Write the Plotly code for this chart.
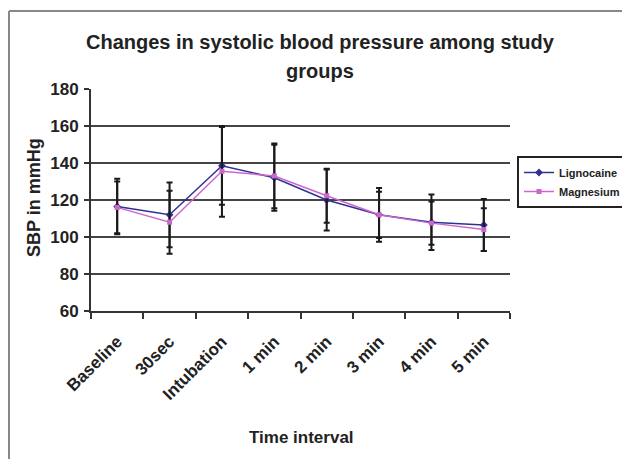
import plotly.graph_objects as go

categories = ["Baseline", "30sec", "Intubation", "1 min", "2 min", "3 min", "4 min", "5 min"]
lignocaine = [116.5, 112, 138.5, 132, 120, 112, 108, 106.5]
lignocaine_sd = [15, 17.5, 21, 17.8, 16.5, 14.5, 15, 14]
magnesium = [116, 108, 135.5, 133, 122.3, 112, 107.5, 104]
magnesium_sd = [14, 17, 24.5, 17.5, 14.6, 12.5, 11.7, 11.5]

FONT = "Liberation Sans, Arial, sans-serif"
L, R, T, B = 91, 112, 89, 148
W, H = 622, 459
pw, ph = W - L - R, H - T - B

def px2x(px):
    return (px - L) / pw

def px2y(py):
    return (H - B - py) / ph

fig = go.Figure()
fig.add_trace(go.Scatter(
    x=categories, y=lignocaine, name="Lignocaine", mode="lines+markers",
    line=dict(color="#2E3192", width=1.5),
    marker=dict(symbol="diamond", size=6, color="#2E3192"),
    error_y=dict(type="data", array=lignocaine_sd, visible=True, color="#1a1a1a", thickness=2, width=3),
))
fig.add_trace(go.Scatter(
    x=categories, y=magnesium, name="Magnesium", mode="lines+markers",
    line=dict(color="#CC66CC", width=1.5),
    marker=dict(symbol="square", size=5, color="#CC66CC"),
    error_y=dict(type="data", array=magnesium_sd, visible=True, color="#1a1a1a", thickness=2, width=3),
))

fig.update_layout(
    width=W, height=H,
    margin=dict(l=L, r=R, t=T, b=B, autoexpand=False),
    paper_bgcolor="white", plot_bgcolor="white",
    font=dict(family=FONT, color="#222"),
    showlegend=True,
    legend=dict(
        x=px2x(517), y=px2y(156), xanchor="left", yanchor="top",
        bordercolor="#222", borderwidth=2, bgcolor="white",
        font=dict(size=11, family=FONT, color="#222", weight="bold"),
        itemwidth=30, tracegroupgap=0,
    ),
)
fig.update_xaxes(
    type="category", range=[-0.5, 7.5], tickson="boundaries",
    ticks="outside", ticklen=6, tickwidth=2, tickcolor="#333",
    showline=True, linecolor="#333", linewidth=2, showgrid=False,
    tickangle=-45, tickfont=dict(size=17, family=FONT, color="#222", weight="bold"),
    ticklabelstandoff=12,
)
fig.update_yaxes(
    range=[60, 180], dtick=20, ticks="outside", ticklen=5, tickwidth=2, tickcolor="#333",
    showline=True, linecolor="#333", linewidth=2,
    showgrid=True, gridcolor="#444", gridwidth=2,
    tickfont=dict(size=17, family=FONT, color="#222", weight="bold"),
    ticklabelstandoff=2,
    zeroline=False,
)

ann = [
    dict(text="Changes in systolic blood pressure among study", x=px2x(320), y=px2y(42), size=20),
    dict(text="groups", x=px2x(320), y=px2y(71), size=20),
    dict(text="Time interval", x=px2x(301), y=px2y(437), size=17),
]
for a in ann:
    fig.add_annotation(text=a["text"], x=a["x"], y=a["y"], xref="paper", yref="paper",
                       xanchor="center", yanchor="middle", showarrow=False,
                       font=dict(size=a["size"], family=FONT, color="#222", weight="bold"))
fig.add_annotation(text="SBP in mmHg", x=px2x(34), y=px2y(198), xref="paper", yref="paper",
                   xanchor="center", yanchor="middle", showarrow=False, textangle=-90,
                   font=dict(size=18, family=FONT, color="#222", weight="bold"))

# outer chart border (top and left edges)
fig.add_shape(type="line", xref="paper", yref="paper", x0=px2x(9), x1=px2x(640), y0=px2y(11), y1=px2y(11),
              line=dict(color="#888", width=2))
fig.add_shape(type="line", xref="paper", yref="paper", x0=px2x(9), x1=px2x(9), y0=px2y(11), y1=px2y(470),
              line=dict(color="#888", width=2))

fig.write_html("out.html")
